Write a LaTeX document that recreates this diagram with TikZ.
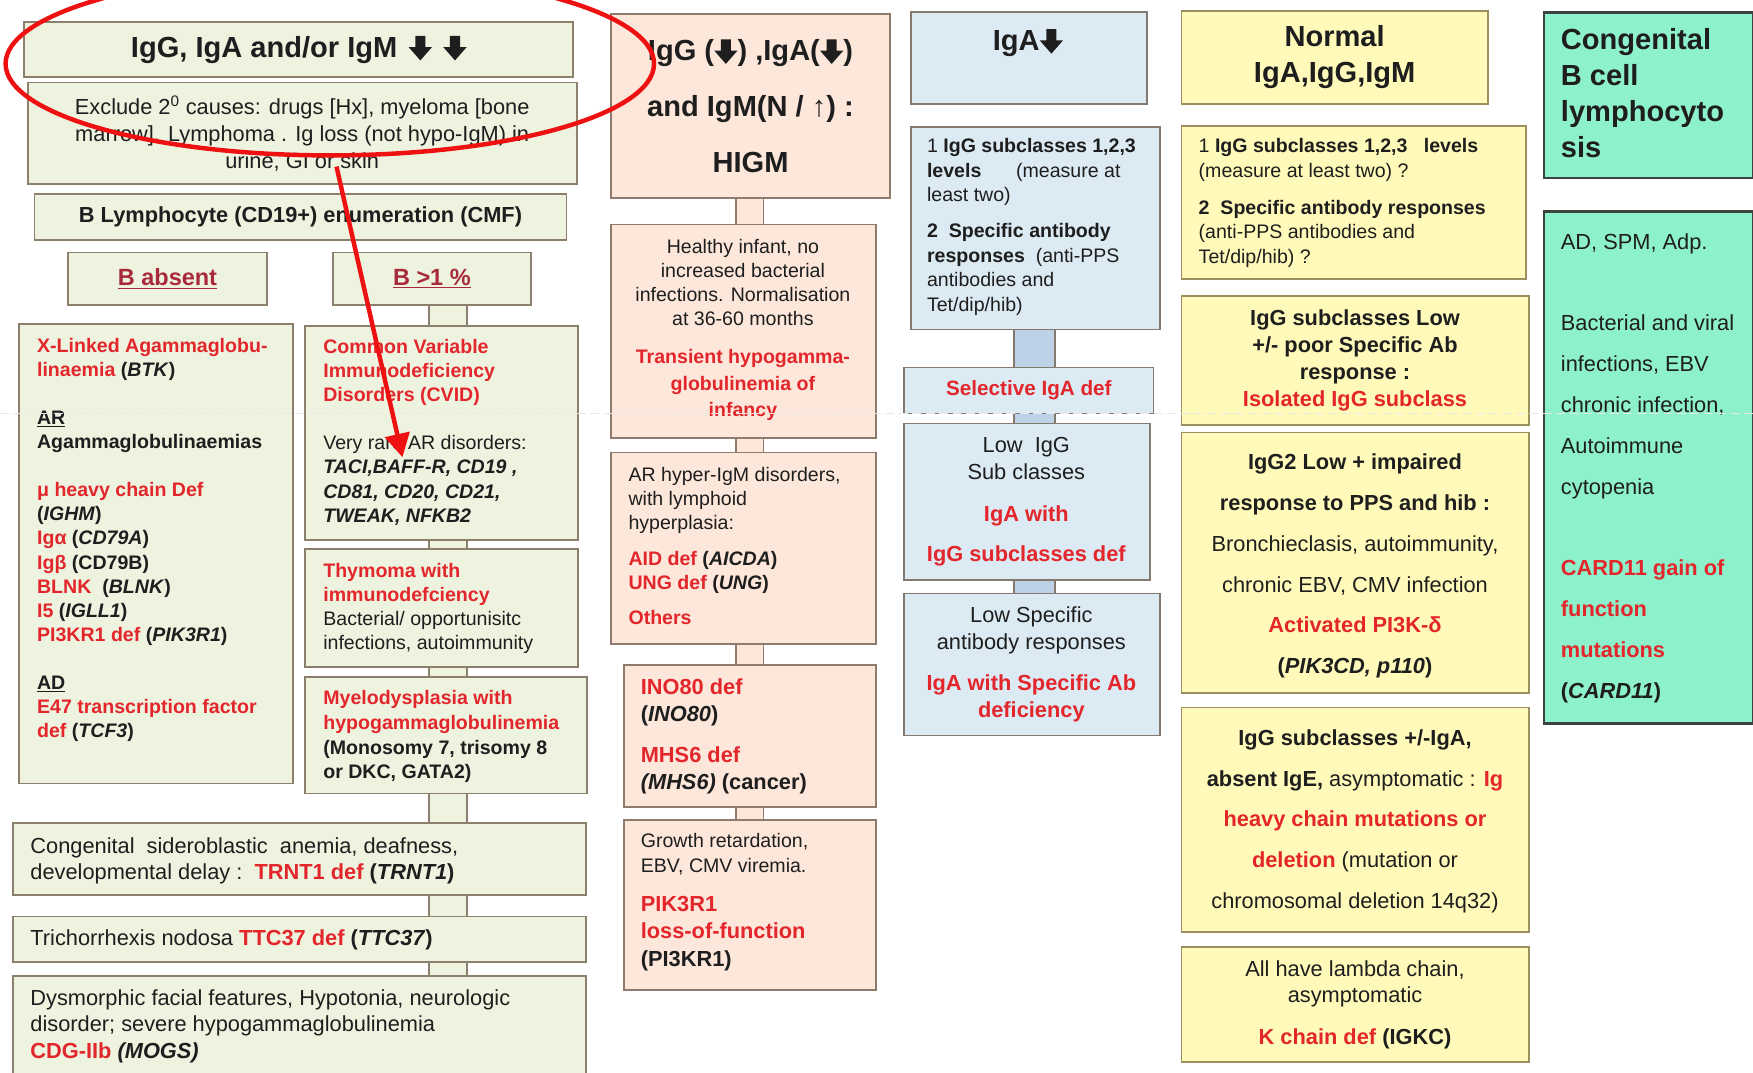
\documentclass[tikz,border=0pt]{standalone}
\usepackage{fontspec}
\setmainfont{Liberation Sans}
\usetikzlibrary{arrows.meta,calc}
\definecolor{gfill}{HTML}{EEF3E0}
\definecolor{gbord}{HTML}{8C806C}
\definecolor{pfill}{HTML}{FDE7DA}
\definecolor{pbord}{HTML}{8E7B6E}
\definecolor{bfill}{HTML}{DCEAF3}
\definecolor{bbord}{HTML}{85786E}
\definecolor{bbar}{HTML}{BDD1E7}
\definecolor{yfill}{HTML}{FFFAB9}
\definecolor{ybord}{HTML}{9C9060}
\definecolor{tfill}{HTML}{8DF1CB}
\definecolor{tbord}{HTML}{3A4540}
\definecolor{rd}{HTML}{E3262B}
\definecolor{drd}{HTML}{A82A3A}
\definecolor{tx}{HTML}{1E1E1E}
\definecolor{ared}{HTML}{EE1111}
\newcommand{\R}[1]{\textcolor{rd}{\textbf{#1}}}
\newcommand{\BI}[1]{\textbf{\textit{#1}}}
\newcommand{\fsz}[2]{\fontsize{#1}{#2}\selectfont}
\newcommand{\darr}{\tikz[baseline=0pt,x=1pt,y=1pt]\fill (-4.5,19) -- (4.5,19) -- (4.5,9) -- (10.5,9) -- (0,-3) -- (-10.5,9) -- (-4.5,9) -- cycle;}
\newcommand{\conn}[6]{\fill[#1] (#3 |- #5.south) rectangle (#4 |- #6.north); \draw[#2, line width=1.6pt] (#3 |- #5.south) -- (#3 |- #6.north) (#4 |- #5.south) -- (#4 |- #6.north);}
\tikzset{
  gbox/.style={draw=gbord, fill=gfill, line width=1.6pt, anchor=north west, inner sep=0pt, text=tx},
  pbox/.style={draw=pbord, fill=pfill, line width=1.6pt, anchor=north west, inner sep=0pt, text=tx},
  bbox/.style={draw=bbord, fill=bfill, line width=1.6pt, anchor=north west, inner sep=0pt, text=tx},
  ybox/.style={draw=ybord, fill=yfill, line width=1.6pt, anchor=north west, inner sep=0pt, text=tx},
  tbox/.style={draw=tbord, fill=tfill, line width=2.2pt, anchor=north west, inner sep=0pt, text=tx},
  txt/.style={inner sep=0pt, anchor=north west, align=left, text=tx},
  ctxt/.style={inner sep=0pt, anchor=north, align=center, text=tx},
  ttl/.style={font=\fsz{26}{32}\bfseries},
  body/.style={font=\fsz{17.5}{21.5}},
}
\begin{document}
\begin{tikzpicture}[x=1pt,y=-1pt]
\useasboundingbox (0,0) rectangle (1568,959);
\clip (0,0) rectangle (1568,959);
\fill[white] (0,0) rectangle (1568,959);

% ---------- column 1 (green) ----------
\node[gbox, ttl, minimum width=491pt, minimum height=49pt] (t1) at (21,19) {IgG, IgA and/or IgM\hspace{10pt}\darr\hspace{10pt}\darr};
\node[gbox, align=center, font=\fsz{19.5}{24}, minimum width=491pt, minimum height=91pt] (excl) at (24,73) {Exclude 2\textsuperscript{0} causes: drugs [Hx], myeloma [bone\\marrow]. Lymphoma . Ig loss (not hypo-IgM) in\\urine, GI or skin};
\node[gbox, font=\fsz{19.5}{24}\bfseries, minimum width=476pt, minimum height=41pt] (blym) at (30,173) {B Lymphocyte (CD19+) enumeration (CMF)};
\node[gbox, font=\fsz{21}{24}\bfseries, text=drd, minimum width=178pt, minimum height=47pt] (babs) at (60,225) {\underline{B absent}};
\node[gbox, font=\fsz{21}{24}\bfseries, text=drd, minimum width=177pt, minimum height=47pt] (bgt) at (297,225) {\underline{B >1 \%}};
\node[gbox, minimum width=245pt, minimum height=411pt] (xla) at (16,289) {};
\node[gbox, minimum width=244pt, minimum height=191pt] (cvid) at (272,291) {};
\node[gbox, minimum width=244pt, minimum height=106pt] (thym) at (272,490) {};
\node[gbox, minimum width=252pt, minimum height=104pt] (myel) at (272,605) {};
\node[gbox, minimum width=512pt, minimum height=65pt] (sidero) at (11,735) {};
\node[gbox, minimum width=512pt, minimum height=41pt] (trich) at (11,819) {};
\node[gbox, minimum width=512pt, minimum height=100pt] (dysm) at (11,872) {};

\coordinate (g1) at (384,0); \coordinate (g2) at (418,0);
\conn{gfill}{gbord}{g1}{g2}{bgt}{cvid}
\conn{gfill}{gbord}{g1}{g2}{cvid}{thym}
\conn{gfill}{gbord}{g1}{g2}{thym}{myel}
\conn{gfill}{gbord}{g1}{g2}{myel}{sidero}
\conn{gfill}{gbord}{g1}{g2}{sidero}{trich}
\conn{gfill}{gbord}{g1}{g2}{trich}{dysm}

\node[txt, body, font=\fsz{17.5}{21.5}\bfseries] (xlat) at (33,300.2) {\strut\R{X-Linked Agammaglobu-}\\ \R{linaemia} (\textit{BTK})\\[21.5pt] \underline{AR}\\ Agammaglobulinaemias\\[21.5pt] \R{μ heavy chain Def}\\ (\textit{IGHM})\\ \R{Igα} (\textit{CD79A})\\ \R{Igβ} (CD79B)\\ \R{BLNK}\ \ (\textit{BLNK})\\ \R{I5} (\textit{IGLL1})\\ \R{PI3KR1 def} (\textit{PIK3R1})\\[21.5pt] \underline{AD}\\ \R{E47 transcription factor}\\ \R{def} (\textit{TCF3})};
\node[txt, body] (cvidt) at (289,301.2) {\strut\R{Common Variable}\\ \R{Immunodeficiency}\\ \R{Disorders (CVID)}\\[21.5pt] Very rare AR disorders:\\ \BI{TACI,BAFF-R, CD19 ,}\\ \BI{CD81, CD20, CD21,}\\ \BI{TWEAK, NFKB2}};
\node[txt, body] (thymt) at (289,501.2) {\strut\R{Thymoma with}\\ \R{immunodefciency}\\ Bacterial/ opportunisitc\\ infections, autoimmunity};
\node[txt, font=\fsz{17.5}{22}] (myelt) at (289,614.85) {\strut\R{Myelodysplasia with}\\ \R{hypogammaglobulinemia}\\ \textbf{(Monosomy 7, trisomy 8}\\ \textbf{or DKC, GATA2)}};
\node[txt, font=\fsz{19.5}{24}] (siderot) at (27,746.05) {\strut Congenital\ \ sideroblastic\ \ anemia, deafness,\\ developmental delay :\ \ \R{TRNT1 def} \textbf{(\textit{TRNT1})}};
\node[txt, font=\fsz{19.5}{24}] (tricht) at (27,829.05) {\strut Trichorrhexis nodosa \R{TTC37 def} \textbf{(\textit{TTC37})}};
\node[txt, font=\fsz{19.5}{24}] (dysmt) at (27,882.05) {\strut Dysmorphic facial features, Hypotonia, neurologic\\ disorder; severe hypogammaglobulinemia\\ \R{CDG-IIb} \BI{(MOGS)}};

% ---------- column 2 (peach) ----------
\node[pbox, align=center, font=\fsz{26}{50}\bfseries, minimum width=249pt, minimum height=164pt] (higm) at (546,12) {IgG (\darr) ,IgA(\darr)\\and IgM(N / ↑) :\\HIGM};
\node[pbox, minimum width=237pt, minimum height=191pt] (healthy) at (546,200) {};
\node[pbox, minimum width=237pt, minimum height=171pt] (arhyp) at (546,404) {};
\node[pbox, minimum width=226pt, minimum height=127pt] (ino) at (557,594) {};
\node[pbox, minimum width=226pt, minimum height=152pt] (growth) at (557,733) {};
\coordinate (p1) at (658,0); \coordinate (p2) at (683,0);
\conn{pfill}{pbord}{p1}{p2}{higm}{healthy}
\conn{pfill}{pbord}{p1}{p2}{healthy}{arhyp}
\conn{pfill}{pbord}{p1}{p2}{arhyp}{ino}
\conn{pfill}{pbord}{p1}{p2}{ino}{growth}

\node[ctxt, body] (healthyt) at (664.5,211.2) {\strut Healthy infant, no\\ increased bacterial\\ infections. Normalisation\\ at 36-60 months\\[12.5pt] \R{Transient hypogamma-}\\[2.5pt] \R{globulinemia of}\\[2.5pt] \R{infancy}};
\node[txt, body] (arhypt) at (562,415.2) {\strut AR hyper-IgM disorders,\\ with lymphoid\\ hyperplasia:\\[10.5pt] \R{AID def} \textbf{(\textit{AICDA})}\\ \R{UNG def} \textbf{(\textit{UNG})}\\[10.5pt] \R{Others}};
\node[txt, font=\fsz{19.5}{24}] (inot) at (573,604.05) {\strut\R{INO80 def}\\ \textbf{(\textit{INO80})}\\[13pt] \R{MHS6 def}\\ \textbf{\textit{(MHS6)} (cancer)}};
\node[txt, font=\fsz{17.5}{22}] (growtht) at (573,742.85) {\strut Growth retardation,\\ EBV, CMV viremia.};
\node[txt, font=\fsz{19.5}{24.5}] (growtht2) at (573,797.7) {\strut\R{PIK3R1}\\ \R{loss-of-function}\\ \textbf{(PI3KR1)}};

% ---------- column 3 (blue) ----------
\node[bbox, minimum width=211pt, minimum height=82pt] (igat) at (814,10) {};
\node[inner sep=0pt, anchor=base, ttl, text=tx] (igatx) at (919.5,45) {IgA\darr};
\node[bbox, minimum width=223pt, minimum height=181pt] (subc) at (814,113) {};
\node[bbox, font=\fsz{18.5}{22}\bfseries, text=rd, minimum width=223pt, minimum height=41pt] (selig) at (808,328) {Selective IgA def};
\node[bbox, minimum width=220pt, minimum height=140pt] (lowig) at (808,378) {};
\node[bbox, minimum width=229pt, minimum height=127pt] (lowsp) at (808,530) {};
\coordinate (b1) at (907,0); \coordinate (b2) at (944,0);
\conn{bbar}{bbord}{b1}{b2}{subc}{selig}
\conn{bbar}{bbord}{b1}{b2}{selig}{lowig}
\conn{bbar}{bbord}{b1}{b2}{lowig}{lowsp}

\node[txt, font=\fsz{17.5}{22}] (subct) at (829,120.85) {\strut 1 \textbf{IgG subclasses 1,2,3}\\ \textbf{levels}\hspace{31pt}(measure at\\ least two)\\[10pt] \textbf{2\ \ Specific antibody}\\ \textbf{responses}\ \ (anti-PPS\\ antibodies and\\ Tet/dip/hib)};
\node[ctxt, font=\fsz{19.5}{24}] (lowigt) at (918,388.05) {\strut Low\ \ IgG\\ Sub classes\\[13pt] \R{IgA with}\\[12pt] \R{IgG subclasses def}};
\node[ctxt, font=\fsz{19.5}{24}] (lowspt) at (922.5,540.05) {\strut Low Specific\\ antibody responses\\[13pt] \R{IgA with Specific Ab}\\ \R{deficiency}};

% ---------- column 4 (yellow) ----------
\node[ybox, align=center, font=\fsz{26}{32}\bfseries, minimum width=274pt, minimum height=83pt] (norm) at (1056,9) {Normal\\IgA,IgG,IgM};
\node[ybox, minimum width=308pt, minimum height=137pt] (y1) at (1056,112) {};
\node[ybox, minimum width=311pt, minimum height=115pt] (y2) at (1056,264) {};
\node[ybox, minimum width=311pt, minimum height=233pt] (y3) at (1056,386) {};
\node[ybox, minimum width=311pt, minimum height=201pt] (y4) at (1056,632) {};
\node[ybox, minimum width=311pt, minimum height=103pt] (y5) at (1056,846) {};

\node[txt, font=\fsz{17.5}{22}] (y1t) at (1072,120.85) {\strut 1 \textbf{IgG subclasses 1,2,3\ \ \ levels}\\ (measure at least two) ?\\[11pt] \textbf{2\ \ Specific antibody responses}\\ (anti-PPS antibodies and\\ Tet/dip/hib) ?};
\node[ctxt, font=\fsz{19.5}{24.3}] (y2t) at (1212,273.84) {\strut\textbf{IgG subclasses Low}\\ \textbf{+/- poor Specific Ab}\\ \textbf{response :}\\ \R{Isolated IgG subclass}};
\node[ctxt, font=\fsz{19.5}{36.5}] (y3t) at (1212,394.3) {\strut\textbf{IgG2 Low + impaired}\\ \textbf{response to PPS and hib :}\\ Bronchieclasis, autoimmunity,\\ chronic EBV, CMV infection\\ \R{Activated PI3K-δ}\\ \textbf{(\textit{PIK3CD, p110})}};
\node[ctxt, font=\fsz{19.5}{36.3}] (y4t) at (1212,641.44) {\strut\textbf{IgG subclasses +/-IgA,}\\ \textbf{absent IgE,} asymptomatic : \R{Ig}\\ \R{heavy chain mutations or}\\ \R{deletion} (mutation or\\ chromosomal deletion 14q32)};
\node[ctxt, font=\fsz{19.5}{24}] (y5t) at (1212,856.05) {\strut All have lambda chain,\\ asymptomatic\\[13pt] \R{K chain def} \textbf{(IGKC)}};

% ---------- column 5 (teal) ----------
\node[tbox, minimum width=187pt, minimum height=148pt] (cong) at (1380,10) {};
\node[tbox, minimum width=187pt, minimum height=458pt] (congd) at (1380,188) {};
\node[txt, font=\fsz{26}{32.3}\bfseries] (congt) at (1396,21.19) {\strut Congenital\\ B cell\\ lymphocyto\\ sis};
\node[txt, font=\fsz{19.5}{36.5}] (congdt) at (1396,197.3) {\strut AD, SPM, Adp.\\[36.5pt] Bacterial and viral\\ infections, EBV\\ chronic infection,\\ Autoimmune\\ cytopenia\\[36.5pt] \R{CARD11 gain of}\\ \R{function}\\ \R{mutations}\\ \textbf{(\textit{CARD11})}};

% faint scan line
\draw[gray!18, line width=0.6pt, dash pattern=on 8pt off 4pt] (0,370) -- (1568,370);

% ---------- red annotation ----------
\coordinate (ra) at (301,149);
\coordinate (rb) at (360,409);
\draw[ared, line width=4pt, -{Triangle[width=22pt,length=21pt]}] (ra) -- (rb);
\draw[ared, line width=4pt] (295,57) ellipse [x radius=290pt, y radius=82pt];
\end{tikzpicture}
\end{document}
